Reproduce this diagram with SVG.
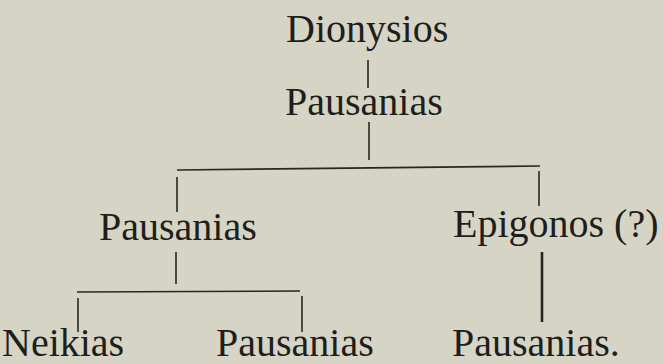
<svg xmlns="http://www.w3.org/2000/svg" width="663" height="364" viewBox="0 0 663 364">
<style>
.t{font-family:"Liberation Serif","DejaVu Serif",serif;font-size:40px;fill:#1e1e1c}
.c line{stroke:#262624;stroke-width:1.6;stroke-linecap:butt}
</style>
<rect width="663" height="364" fill="#d6d4c4"/>
<g class="c" id="connectors">
<line x1="368" y1="60" x2="368" y2="88"/>
<line x1="369" y1="122" x2="369" y2="160"/>
<line x1="177" y1="170" x2="540" y2="166"/>
<line x1="177" y1="177" x2="177" y2="212"/>
<line x1="539" y1="171" x2="539" y2="206"/>
<line x1="176" y1="252" x2="176" y2="284"/>
<line x1="77" y1="292" x2="300" y2="291"/>
<line x1="78" y1="298" x2="78" y2="332"/>
<line x1="302" y1="296" x2="302" y2="332"/>
<line x1="542" y1="252" x2="542" y2="322" style="stroke-width:2.6"/>
</g>
<g id="n1"><text class="t" x="286" y="42">Dionysios</text></g>
<g id="n2"><text class="t" x="285" y="115">Pausanias</text></g>
<g id="n3"><text class="t" x="99" y="240">Pausanias</text></g>
<g id="n4"><text class="t" x="453" y="237">Epigonos (?)</text></g>
<g id="n5"><text class="t" x="2" y="356">Neikias</text></g>
<g id="n6"><text class="t" x="216" y="356">Pausanias</text></g>
<g id="n7"><text class="t" x="452" y="356">Pausanias.</text></g>
</svg>
